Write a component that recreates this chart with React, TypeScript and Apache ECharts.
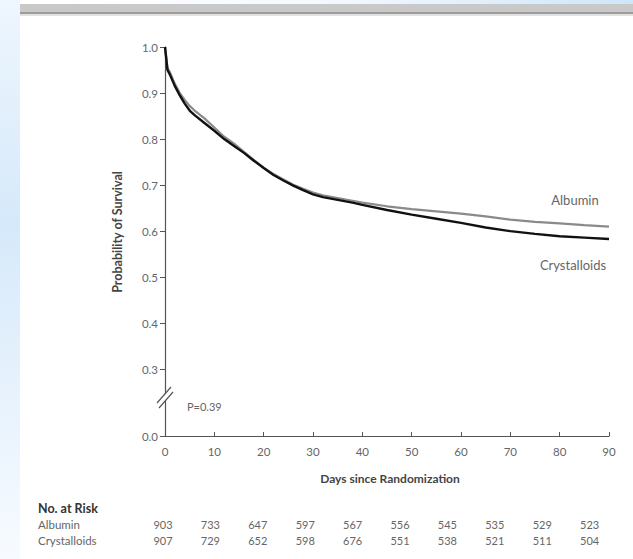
import React, { useEffect, useRef } from "react";
import * as echarts from "echarts";

const days = [0, 0.5, 1, 2, 3, 4, 5, 6, 8, 10, 12, 14, 16, 18, 20, 22, 24, 26, 28, 30, 32, 35, 38, 40, 45, 50, 55, 60, 65, 70, 75, 80, 85, 90];
const albumin = [1.0, 0.955, 0.945, 0.92, 0.9, 0.885, 0.872, 0.862, 0.845, 0.825, 0.805, 0.79, 0.772, 0.755, 0.738, 0.724, 0.712, 0.701, 0.692, 0.684, 0.678, 0.672, 0.666, 0.662, 0.654, 0.648, 0.643, 0.638, 0.632, 0.625, 0.62, 0.617, 0.613, 0.61];
const crystalloids = [1.0, 0.95, 0.94, 0.915, 0.895, 0.877, 0.862, 0.852, 0.835, 0.818, 0.8, 0.785, 0.77, 0.753, 0.737, 0.722, 0.71, 0.699, 0.689, 0.68, 0.674, 0.668, 0.662, 0.657, 0.646, 0.636, 0.627, 0.618, 0.608, 0.6, 0.594, 0.589, 0.586, 0.583];

const yTicks = [0.155, 0.3, 0.4, 0.5, 0.6, 0.7, 0.8, 0.9, 1.0];
const riskDays = [0, 10, 20, 30, 40, 50, 60, 70, 80, 90];
const riskAlbumin = [903, 733, 647, 597, 567, 556, 545, 535, 529, 523];
const riskCrystalloids = [907, 729, 652, 598, 676, 551, 538, 521, 511, 504];

const FONT = "Lato, 'Open Sans', sans-serif";
const TXT = "#666666";

export default function App() {
  const ref = useRef<HTMLDivElement>(null);
  useEffect(() => {
    if (!ref.current) return;
    const chart = echarts.init(ref.current, null, { renderer: "svg" });
    const colX0 = 163;
    const colStep = 47.4;
    const graphics: any[] = [
      {
        type: "rect", z: -10, shape: { x: 0, y: 0, width: 20, height: 559 },
        style: { fill: new echarts.graphic.LinearGradient(0, 0, 0, 1, [
          { offset: 0, color: "#eef6fe" },
          { offset: 0.4, color: "#d6e9fa" },
          { offset: 1, color: "#f7fbff" },
        ]) },
      },
      {
        type: "rect", z: -10, shape: { x: 20, y: 0, width: 613, height: 5 },
        style: { fill: new echarts.graphic.LinearGradient(0, 0, 1, 0, [
          { offset: 0, color: "#ffffff" },
          { offset: 0.5, color: "#f4f9fe" },
          { offset: 1, color: "#cfe6f9" },
        ]) },
      },
      { type: "rect", shape: { x: 20, y: 4, width: 613, height: 8 }, style: { fill: "#c9c9c9" } },
      { type: "rect", shape: { x: 20, y: 12, width: 613, height: 2 }, style: { fill: "#9c9c9c" } },
      { type: "rect", shape: { x: 20, y: 14, width: 613, height: 2 }, style: { fill: "#e2e2e2" } },
      { type: "polygon", z: 100, shape: { points: [[157, 403], [171, 387], [173, 392], [159, 408]] }, style: { fill: "#ffffff" } },
      { type: "line", z: 101, shape: { x1: 157, y1: 403, x2: 171, y2: 387 }, style: { stroke: "#555", lineWidth: 1.2 } },
      { type: "line", z: 101, shape: { x1: 159, y1: 408, x2: 173, y2: 392 }, style: { stroke: "#555", lineWidth: 1.2 } },
      { type: "text", x: 187, y: 406, style: { text: "P=0.39", fill: TXT, font: `11px ${FONT}`, verticalAlign: "middle" } },
      { type: "text", x: 575, y: 200, style: { text: "Albumin", fill: TXT, font: `13px ${FONT}`, align: "center", verticalAlign: "middle" } },
      { type: "text", x: 573, y: 265, style: { text: "Crystalloids", fill: TXT, font: `13px ${FONT}`, align: "center", verticalAlign: "middle" } },
      { type: "text", x: 117, y: 232, rotation: Math.PI / 2, style: { text: "Probability of Survival", fill: "#444", font: `bold 12.5px ${FONT}`, align: "center", verticalAlign: "middle" } },
      { type: "text", x: 390, y: 478, style: { text: "Days since Randomization", fill: "#444", font: `bold 12px ${FONT}`, align: "center", verticalAlign: "middle" } },
      { type: "text", x: 38, y: 508, style: { text: "No. at Risk", fill: "#333", font: `bold 12.5px ${FONT}`, verticalAlign: "middle" } },
      { type: "text", x: 38, y: 524, style: { text: "Albumin", fill: TXT, font: `11.5px ${FONT}`, verticalAlign: "middle" } },
      { type: "text", x: 38, y: 540, style: { text: "Crystalloids", fill: TXT, font: `11.5px ${FONT}`, verticalAlign: "middle" } },
    ];
    riskDays.forEach((d, i) => {
      graphics.push({ type: "text", x: colX0 + i * colStep, y: 524, style: { text: String(riskAlbumin[i]), fill: TXT, font: `11px ${FONT}`, align: "center", verticalAlign: "middle" } });
      graphics.push({ type: "text", x: colX0 + i * colStep, y: 540, style: { text: String(riskCrystalloids[i]), fill: TXT, font: `11px ${FONT}`, align: "center", verticalAlign: "middle" } });
    });

    chart.setOption({
      animation: false,
      backgroundColor: "#ffffff",
      textStyle: { fontFamily: FONT },
      grid: { left: 165, right: 24, top: 47, bottom: 123 },
      xAxis: {
        type: "value", min: 0, max: 90, interval: 10,
        axisLine: { lineStyle: { color: "#555", width: 1.2 } },
        axisTick: { inside: true, length: 4, lineStyle: { color: "#555" } },
        axisLabel: { color: TXT, fontSize: 11.5, margin: 9, fontFamily: FONT },
        splitLine: { show: false },
      },
      yAxis: {
        type: "value", min: 0.155, max: 1.0,
        axisLine: { show: true, lineStyle: { color: "#555", width: 1.2 } },
        axisTick: { show: true, length: 5, customValues: yTicks, lineStyle: { color: "#555" } },
        axisLabel: {
          color: TXT, fontSize: 11.5, margin: 7, fontFamily: FONT, customValues: yTicks,
          formatter: (v: number) => (v < 0.2 ? "0.0" : v.toFixed(1)),
        },
        splitLine: { show: false },
      },
      series: [
        { name: "Albumin", type: "line", data: days.map((d, i) => [d, albumin[i]]), showSymbol: false, lineStyle: { color: "#8a8a8a", width: 2.2 }, z: 2 },
        { name: "Crystalloids", type: "line", data: days.map((d, i) => [d, crystalloids[i]]), showSymbol: false, lineStyle: { color: "#111111", width: 2.4 }, z: 3 },
      ],
      graphic: graphics,
    });
    return () => chart.dispose();
  }, []);
  return <div ref={ref} style={{ position: "fixed", left: 0, top: 0, width: 633, height: 559 }} />;
}
